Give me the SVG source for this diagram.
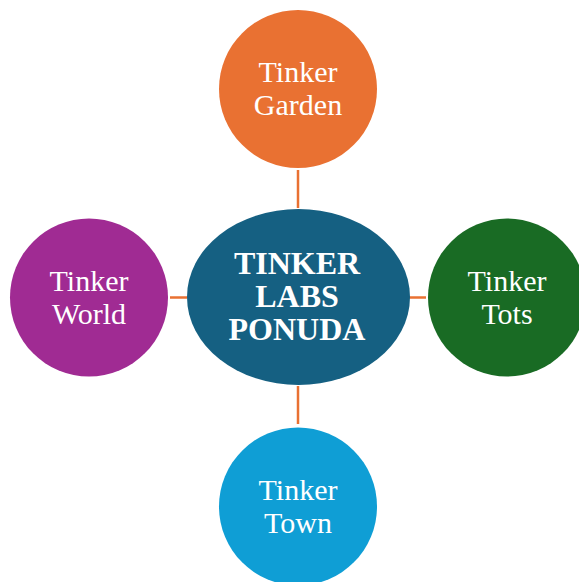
<svg xmlns="http://www.w3.org/2000/svg" width="579" height="582" viewBox="0 0 579 582">
<style>
.t{font-family:"Liberation Serif","Times New Roman",serif;font-size:30px;fill:#fff;text-anchor:middle}
.c{font-family:"Liberation Serif","Times New Roman",serif;font-size:32px;font-weight:bold;fill:#fff;text-anchor:middle}
.l{stroke:#E97132;stroke-width:2.5;fill:none}
</style>
<rect width="579" height="582" fill="#fff"/>
<g id="connectors">
<line class="l" x1="298" y1="170" x2="298" y2="208"/>
<line class="l" x1="298" y1="386" x2="298" y2="424"/>
<line class="l" x1="170" y1="297.5" x2="187" y2="297.5"/>
<line class="l" x1="409" y1="297.5" x2="426" y2="297.5"/>
</g>
<g id="center">
<ellipse cx="298.5" cy="297" rx="111.5" ry="88" fill="#156082"/>
<text class="c" x="297" y="274">TINKER</text>
<text class="c" x="297" y="307">LABS</text>
<text class="c" x="297" y="340">PONUDA</text>
</g>
<g id="garden">
<circle cx="298" cy="89" r="79" fill="#E97132"/>
<text class="t" x="298" y="82">Tinker</text>
<text class="t" x="298" y="115">Garden</text>
</g>
<g id="world">
<circle cx="89" cy="297.5" r="79" fill="#A02B93"/>
<text class="t" x="89" y="291">Tinker</text>
<text class="t" x="89" y="323.5">World</text>
</g>
<g id="tots">
<circle cx="507" cy="297.5" r="79" fill="#196B24"/>
<text class="t" x="507" y="291">Tinker</text>
<text class="t" x="507" y="323.5">Tots</text>
</g>
<g id="town">
<circle cx="298" cy="506.5" r="79" fill="#0F9ED5"/>
<text class="t" x="298" y="499.5">Tinker</text>
<text class="t" x="298" y="532.5">Town</text>
</g>
</svg>
